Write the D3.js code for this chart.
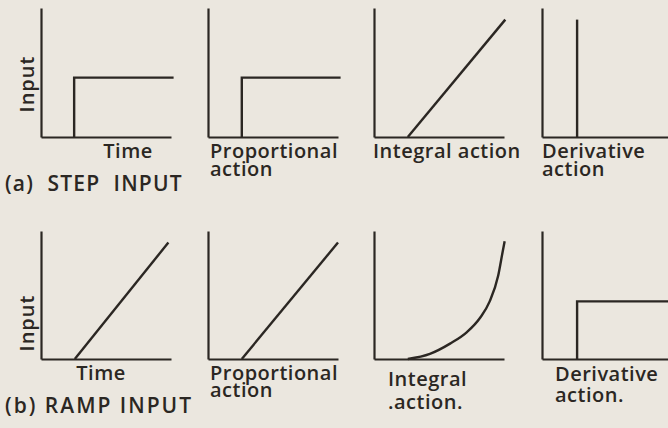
<!DOCTYPE html>
<html>
<head>
<meta charset="utf-8">
<script src="https://cdn.jsdelivr.net/npm/d3@7"></script>
<style>
  body { margin: 0; background: #ebe7df; }
  svg { display: block; }
  text { font-family: "Open Sans", Lato, sans-serif; fill: #2b2723; font-weight: 600; font-size: 20px; letter-spacing: 0.5px; }
</style>
</head>
<body>
<svg width="668" height="428"></svg>
<script>
// time and input, both in arbitrary units 0..10
const stepInput = [[2.55, 0], [2.55, 4.6], [10.2, 4.6]]
const stepProportional = [[2.6, 0], [2.6, 4.6], [10.2, 4.6]]
const stepIntegral = [[2.6, 0], [10.1, 9.1]]
const stepDerivative = [[2.7, 0], [2.7, 9.1]]

const rampInput = [[2.6, 0], [9.8, 9.1]]
const rampProportional = [[2.6, 0], [10.0, 9.1]]
const rampIntegral = [
  [2.6, 0], [4.3, 0.4], [5.85, 1.2], [7.15, 2.1], [8.15, 3.2],
  [8.9, 4.5], [9.55, 6.5], [9.9, 8.4], [10.05, 9.2]
]
const rampDerivative = [[2.7, 0], [2.7, 4.5], [10.2, 4.5]]

const stepLabels = [['Time'], ['Proportional', 'action'], ['Integral action'], ['Derivative', 'action']]
const rampLabels = [['Time'], ['Proportional', 'action'], ['Integral', '.action.'], ['Derivative', 'action.']]
const rowTitles = ['(a)  STEP  INPUT', '(b) RAMP INPUT']
const yAxisLabel = 'Input'

const svg = d3.select('svg')
const ink = '#2b2723'

const panelLeft = [41, 208, 374, 542]
const panelWidth = 130
const rows = [
  { top: 8, bottom: 137, series: [stepInput, stepProportional, stepIntegral, stepDerivative], labels: stepLabels,
    labelX: [128, 210, 373, 542], labelY: [158, 158, 158, 158], lineGap: [18, 18, 18, 18],
    anchor: ['middle', 'start', 'start', 'start'], titleY: 191, titleSpacing: 1.2, inputY: 84 },
  { top: 231, bottom: 359, series: [rampInput, rampProportional, rampIntegral, rampDerivative], labels: rampLabels,
    labelX: [101, 210, 388, 555], labelY: [380, 380, 386, 381], lineGap: [17, 17, 23, 21],
    anchor: ['middle', 'start', 'start', 'start'], titleY: 413, titleSpacing: 2, inputY: 323 }
]

rows.forEach((row, ri) => {
  panelLeft.forEach((left, pi) => {
    const xScale = d3.scaleLinear().domain([0, 10]).range([left, left + panelWidth])
    const yScale = d3.scaleLinear().domain([0, 10]).range([row.bottom, row.top])

    const g = svg.append('g')

    g.append('g')
      .attr('transform', `translate(0, ${row.bottom})`)
      .call(d3.axisBottom(xScale).ticks(0).tickSizeOuter(0))
    g.append('g')
      .attr('transform', `translate(${left}, 0)`)
      .call(d3.axisLeft(yScale).ticks(0).tickSizeOuter(0))
    g.selectAll('.domain')
      .attr('stroke', ink)
      .attr('stroke-width', 2.2)

    const line = d3.line()
      .x(d => xScale(d[0]))
      .y(d => yScale(d[1]))
      .curve(pi === 2 && ri === 1 ? d3.curveMonotoneX : d3.curveLinear)

    g.append('path')
      .datum(row.series[pi])
      .attr('d', line)
      .attr('fill', 'none')
      .attr('stroke', ink)
      .attr('stroke-width', 2.4)

    const lbl = g.append('text')
      .attr('text-anchor', row.anchor[pi])
    row.labels[pi].forEach((t, i) => {
      lbl.append('tspan')
        .attr('x', row.labelX[pi])
        .attr('y', row.labelY[pi] + i * row.lineGap[pi])
        .text(t)
    })
  })

  svg.append('text')
    .attr('transform', `translate(34, ${row.inputY}) rotate(-90)`)
    .attr('text-anchor', 'middle')
    .style('letter-spacing', '1px')
    .text(yAxisLabel)

  svg.append('text')
    .attr('x', 5)
    .attr('y', row.titleY)
    .style('white-space', 'pre')
    .style('font-size', '21px')
    .style('letter-spacing', row.titleSpacing + 'px')
    .text(rowTitles[ri])
})
</script>
</body>
</html>
